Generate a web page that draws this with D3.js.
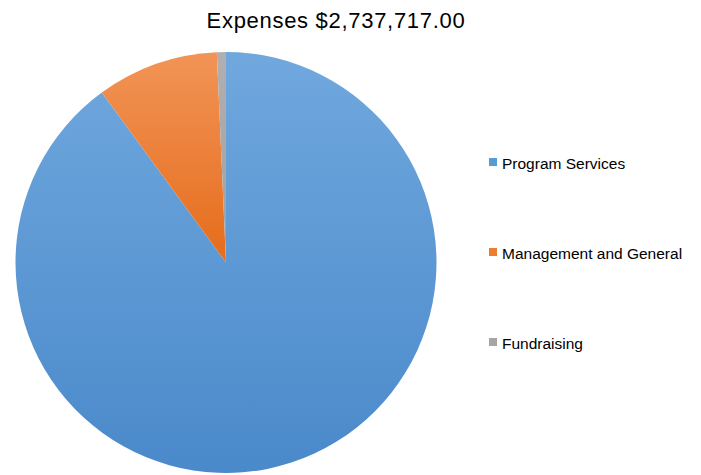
<!DOCTYPE html>
<html><head><meta charset="utf-8">
<script src="https://cdn.jsdelivr.net/npm/d3@7"></script>
<style>body{margin:0;background:#fff;} svg{display:block;}</style>
</head><body>
<svg id="chart" width="701" height="475"></svg>
<script>
const title = "Expenses $2,737,717.00";
const categories = ["Program Services", "Management and General", "Fundraising"];
const values = [2462717, 256000, 19000];
const colorsTop = ["#70a8de", "#f29457", "#b0b0b0"];
const colorsBottom = ["#4a89ca", "#e56c1b", "#a0a0a0"];
const legendColors = ["#5b9bd5", "#ed7d31", "#a5a5a5"];

const svg = d3.select("#chart");
const defs = svg.append("defs");
categories.forEach((c, i) => {
  const g = defs.append("linearGradient").attr("id", "g" + i)
    .attr("x1", 0).attr("y1", 0).attr("x2", 0).attr("y2", 1);
  g.append("stop").attr("offset", "0%").attr("stop-color", colorsTop[i]);
  g.append("stop").attr("offset", "100%").attr("stop-color", colorsBottom[i]);
});

svg.append("text").attr("x", 336).attr("y", 27.5).attr("text-anchor", "middle")
  .attr("font-family", "Liberation Sans, Arial, sans-serif").attr("font-size", 22)
  .attr("letter-spacing", 0.7)
  .attr("fill", "#000").text(title);

const cx = 226, cy = 262.5, r = 210.5;
const pie = d3.pie().sort(null).value(d => d)(values);
const arc = d3.arc().innerRadius(0).outerRadius(r);
const g = svg.append("g").attr("transform", `translate(${cx},${cy})`);
g.selectAll("path").data(pie).join("path")
  .attr("d", arc).attr("fill", (d, i) => `url(#g${i})`);

const ly = d3.scalePoint().domain(categories).range([162, 342]);
const leg = svg.append("g");
categories.forEach((c, i) => {
  leg.append("rect").attr("x", 489).attr("y", ly(c) - 4).attr("width", 8).attr("height", 8)
    .attr("fill", legendColors[i]);
  leg.append("text").attr("x", 502).attr("y", ly(c) + 6.5)
    .attr("font-family", "Liberation Sans, Arial, sans-serif").attr("font-size", 15.5)
    .attr("fill", "#000").text(c);
});
</script>
</body></html>
